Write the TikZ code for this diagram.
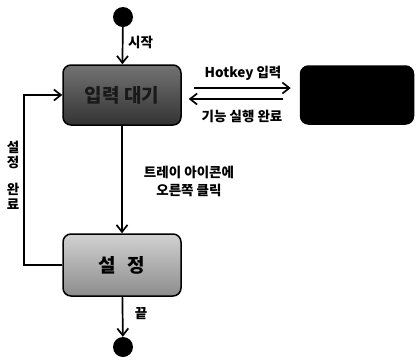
\documentclass[tikz,border=0pt]{standalone}
\usepackage{fontspec}
\setmainfont{Noto Sans CJK KR}
\usetikzlibrary{arrows.meta}
\begin{document}
\begin{tikzpicture}[x=1pt,y=-1pt,
    state/.style={draw=black, line width=1.5pt, rounded corners=8pt,
        minimum width=118pt, minimum height=60pt, inner sep=0pt},
    dot/.style={circle, fill=black, minimum size=20pt, inner sep=0pt},
    flow/.style={line width=1.7pt, -{Straight Barb[length=7pt,width=11pt]}},
    lbl/.style={font=\bfseries\fontsize{13.5}{15}\selectfont, inner sep=0pt}]
    \useasboundingbox (0,0) rectangle (416,360);
    % states
    \node[dot] (start) at (123,17) {};
    \node[state, top color=black!55, bottom color=black!80, text=black!90,
        font=\bfseries\fontsize{19}{20}\selectfont] (wait) at (122,95) {입력 대기};
    \node[state, fill=black, minimum width=113pt, minimum height=58pt] (run) at (357,95) {};
    \node[state, top color=black!18, bottom color=black!45, minimum height=62pt,
        font=\bfseries\fontsize{19}{20}\selectfont] (setup) at (122,265) {설\hspace{.6em}정};
    \node[dot] (stop) at (123,347) {};
    % transitions
    \draw[flow] (start) -- (wait);
    \draw[flow] (wait) -- (setup);
    \draw[flow] (setup) -- (stop);
    \draw[flow] (setup.west) -- ++(-38,0) |- (wait.west);
    \draw[flow, shorten <=12pt, shorten >=9pt] ([yshift=7pt]wait.east) -- ([yshift=7pt]run.west);
    \draw[flow, shorten <=17pt, shorten >=7pt] ([yshift=-4pt]run.west) -- ([yshift=-4pt]wait.east);
    % labels
    \node[lbl, right] (startlbl) at (128,42) {시작};
    \node[lbl] (hotlbl) at (243,73) {Hotkey 입력};
    \node[lbl] (donelbl) at (242,116) {기능 실행 완료};
    \node[lbl, align=center, font=\bfseries\fontsize{13.5}{18}\selectfont] (traylbl) at (189,181) {트레이 아이콘에\\오른쪽 클릭};
    \node[lbl] (endlbl) at (141,314) {끝};
    \node[lbl, align=center] (looplbl) at (13,175) {설\\정\\[12pt]완\\료};
\end{tikzpicture}
\end{document}
